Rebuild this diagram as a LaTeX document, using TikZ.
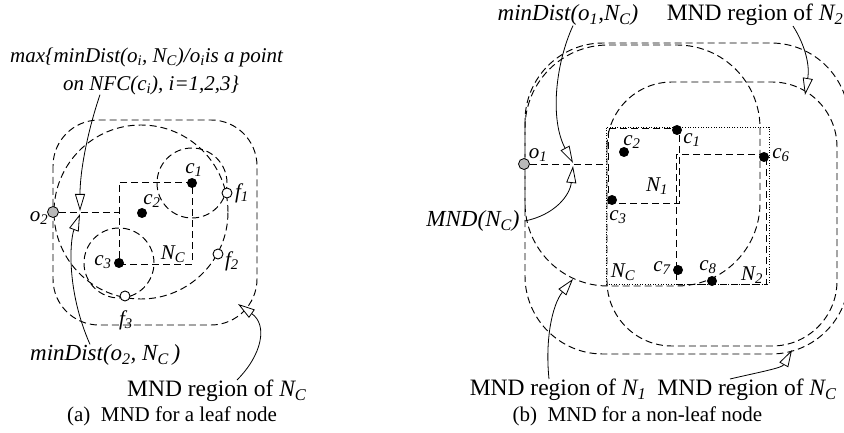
\documentclass[tikz,border=0pt]{standalone}
\usepackage{fontspec}
\setmainfont{Liberation Serif}
\usetikzlibrary{arrows.meta}
\newcommand{\sbx}[1]{\textsubscript{#1}}
\begin{document}
\begin{tikzpicture}[x=1pt,y=-1pt,
  dsh/.style={draw=black, line width=0.95pt, dash pattern=on 7pt off 4pt},
  dotd/.style={draw, line width=0.9pt, dash pattern=on 1pt off 1.6pt},
  cdot/.style={circle, fill=black, inner sep=0pt, minimum size=10pt},
  fdot/.style={circle, draw, fill=white, line width=0.9pt, inner sep=0pt, minimum size=10pt},
  odot/.style={circle, draw, fill=gray!55, line width=0.8pt, inner sep=0pt, minimum size=11pt},
  lbl/.style={inner sep=0pt, font=\fontsize{21}{24}\selectfont\itshape},
  biglbl/.style={inner sep=0pt, font=\fontsize{23}{26}\selectfont\itshape},
  txt/.style={inner sep=0pt, font=\fontsize{23.5}{26}\selectfont},
  captxt/.style={inner sep=0pt, font=\fontsize{21}{24}\selectfont},
  conn/.style={line width=0.8pt, -{Triangle[fill=white,length=17pt,width=10pt]}}]
\path[use as bounding box, clip] (0,0) rectangle (844,433);

% ===================== (a) leaf node =====================
\node[dsh, minimum width=73pt, minimum height=82pt, inner sep=0pt] (NCa) at (155.5,223) {};
\path[dsh] (53,120) [rounded corners=46pt] rectangle (257,325);
\draw[dsh] (141,212) circle[radius=87pt];
\draw[dsh] (192,183) circle[radius=35pt];
\draw[dsh] (119,263) circle[radius=35pt];

\node[cdot] (c1a) at (192,183) {};
\node[cdot] (c2a) at (142,213) {};
\node[cdot] (c3a) at (119,263) {};
\node[fdot] (f1) at (227,193) {};
\node[fdot] (f2) at (218,254) {};
\node[fdot] (f3) at (125,296) {};
\node[odot] (o2) at (53,212) {};
\draw[dsh] (o2) -- (o2 -| NCa.west);

\node[lbl] at (194,170) {c\sbx{1}};
\node[lbl] at (152,201) {c\sbx{2}};
\node[lbl] at (103,262) {c\sbx{3}};
\node[lbl] at (173,254) {N\sbx{C}};
\node[lbl] at (242,193) {f\sbx{1}};
\node[lbl] at (232,261) {f\sbx{2}};
\node[lbl] at (126,320) {f\sbx{3}};
\node[lbl] at (39,218) {o\sbx{2}};

\node[lbl, anchor=west] (t1) at (10,57) {max\{minDist(o\sbx{i}, N\sbx{C})/o\sbx{i}is a point};
\node[lbl, anchor=west] (t2) at (63,85) {on NFC(c\sbx{i}), i=1,2,3\}};
\node[biglbl, anchor=west] (mdo2) at (30,355) {minDist(o\sbx{2}, N\sbx{C}\,)};
\node[txt, anchor=west] (mndl) at (127,391) {MND region of \textit{N\sbx{C}}};
\node[captxt] (capa) at (172,416) {(a)~ MND for a leaf node};

\coordinate (tipA) at (80,211);
\coordinate (tipB) at (80,214);
\coordinate (tipC) at (238,304);
\draw[conn] ([xshift=37pt]t2.south west) .. controls (88,130) and (80,170) .. (tipA);
\draw[conn] ([xshift=60pt]mdo2.north west) .. controls (66,290) and (70,240) .. (tipB);
\draw[conn] ([xshift=110pt]mndl.north west) .. controls (262,355) and (268,325) .. (tipC);

% ===================== (b) non-leaf node =====================
\path[dsh] (525,43) [rounded corners=78pt] rectangle (849,354);
\path[dsh] (525,45) [rounded corners=83pt] rectangle (760,286);
\path[dsh] (607,82) [rounded corners=65pt] rectangle (837,346);

\node[dotd, minimum width=163pt, minimum height=157pt, inner sep=0pt] (NCb) at (687.5,205.5) {};
\node[dsh, minimum width=71pt, minimum height=75pt, inner sep=0pt] (N1) at (643.5,165.5) {};
\node[dsh, minimum width=90pt, minimum height=130pt, inner sep=0pt] (N2) at (721,219) {};

\node[cdot] (c1b) at (677,130) {};
\node[cdot] (c2b) at (624,152) {};
\node[cdot] (c3b) at (612,200) {};
\node[cdot] (c6b) at (764,157) {};
\node[cdot] (c7b) at (678,270) {};
\node[cdot] (c8b) at (712,281) {};
\node[odot] (o1) at (524,164) {};
\draw[dsh] (o1) -- (o1 -| NCb.west);

\node[lbl] at (692,140) {c\sbx{1}};
\node[lbl] at (632,142) {c\sbx{2}};
\node[lbl] at (618,217) {c\sbx{3}};
\node[lbl] at (781,155) {c\sbx{6}};
\node[lbl] at (662,268) {c\sbx{7}};
\node[lbl] at (708,267) {c\sbx{8}};
\node[lbl] at (657,186) {N\sbx{1}};
\node[lbl] at (623,272) {N\sbx{C}};
\node[lbl] at (752,275) {N\sbx{2}};
\node[lbl] at (538,155) {o\sbx{1}};

\node[biglbl] (mdo1) at (568,15) {minDist(o\sbx{1},N\sbx{C})};
\node[txt] (mndn2) at (755,15) {MND region of \textit{N\sbx{2}}};
\node[biglbl] (mndnc) at (473,221) {MND(N\sbx{C})};
\node[txt] (mndn1) at (558,390) {MND region of \textit{N\sbx{1}}};
\node[txt] (mndncr) at (747,390) {MND region of \textit{N\sbx{C}}};
\node[captxt] (capb) at (637.5,416) {(b)~ MND for a non-leaf node};

\coordinate (tipD) at (573,163);
\coordinate (tipE) at (573,166);
\coordinate (tipF) at (805,95);
\coordinate (tipG) at (573,279);
\coordinate (tipH) at (792,350);
\draw[conn] ([xshift=5pt]mdo1.south) .. controls (555,65) and (550,120) .. (tipD);
\draw[conn] ([xshift=5pt]mndnc.east) .. controls (555,215) and (570,195) .. (tipE);
\draw[conn] ([xshift=38pt]mndn2.south) .. controls (805,45) and (810,65) .. (tipF);
\draw[conn] ([xshift=-9pt]mndn1.north) .. controls (545,340) and (552,305) .. (tipG);
\draw[conn] ([xshift=-17pt]mndncr.north) .. controls (760,372) and (782,368) .. (tipH);
\end{tikzpicture}
\end{document}
